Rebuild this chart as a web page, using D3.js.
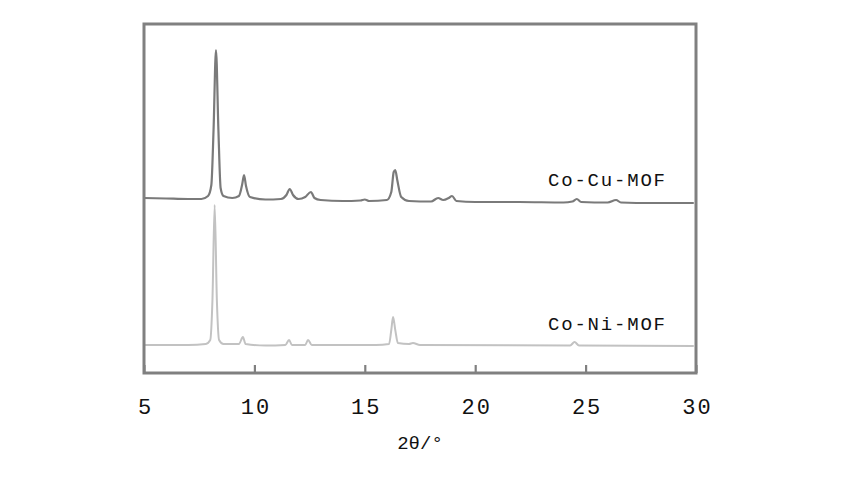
<!DOCTYPE html>
<html><head><meta charset="utf-8">
<script src="https://cdn.jsdelivr.net/npm/d3@7"></script>
<style>body{margin:0;background:#fff;} svg{display:block;}</style>
</head><body>
<svg id="c" width="850" height="478"></svg>
<script>
// 2θ values (degrees) and stacked intensities (a.u., offset included)
const cuTheta = [5.0,6.0,7.0,7.6,7.9,8.05,8.15,8.26,8.37,8.47,8.6,9.0,9.3,9.45,9.53,9.62,9.8,10.5,11.2,11.45,11.6,11.75,12.0,12.3,12.56,12.72,13.0,14.0,14.8,15.0,15.2,16.0,16.2,16.31,16.38,16.47,16.65,17.0,18.0,18.32,18.55,18.8,18.95,19.15,20.0,22.0,24.0,24.4,24.6,24.8,26.0,26.38,26.6,28.0,29.9];
const cuInt   = [176,175.5,175,175,178,189,244,324,244,186,178,176,178,190,199,188,177,174.5,175,179,185,179,175,177,182,176,174,173,173.5,174.5,173,174,182,202,204,194,177,173,172.5,176,174,176,178,173,172,172,171.5,172.5,175,172,171.5,174,171.5,171,171];
const niTheta = [5.0,7.0,7.8,8.0,8.1,8.2,8.3,8.4,8.6,9.3,9.48,9.6,10.5,11.4,11.57,11.7,12.3,12.43,12.6,15.5,16.1,16.2,16.28,16.38,16.5,17.0,17.18,17.5,24.3,24.5,24.7,29.9];
const niInt   = [29,29,30,34,74,169,74,34,30,30,37,30,28.5,29,34,29,29,34,29,29,30,44,57,44,31,30,31,29,28.5,32,28.5,28];
const seriesNames = ["Co-Cu-MOF","Co-Ni-MOF"];
const xTicks = [5,10,15,20,25,30];
const xTitle = "2θ/°";

const svg = d3.select("#c");
const L=144,R=696,T=24,B=373;
const x = d3.scaleLinear().domain([5,30]).range([L,R]);
const y = d3.scaleLinear().domain([0,350]).range([374,24]);

svg.append("clipPath").attr("id","pc").append("rect").attr("x",L).attr("y",T).attr("width",R-L).attr("height",B-T);

const line = d3.line().x(d=>x(d[0])).y(d=>y(d[1])).curve(d3.curveMonotoneX);
const cu = cuTheta.map((t,i)=>[t,cuInt[i]]);
const ni = niTheta.map((t,i)=>[t,niInt[i]]);

const g = svg.append("g").attr("clip-path","url(#pc)");
g.append("path").datum(ni).attr("d",line).attr("fill","none").attr("stroke","#c2c2c2").attr("stroke-width",2);
g.append("path").datum(cu).attr("d",line).attr("fill","none").attr("stroke","#7a7a7a").attr("stroke-width",2.2);

// frame
svg.append("rect").attr("x",L).attr("y",T).attr("width",R-L).attr("height",B-T)
  .attr("fill","none").attr("stroke","#808080").attr("stroke-width",3);

// axis ticks (inward)
const ax = d3.axisBottom(x).tickValues(xTicks).tickSizeInner(-8).tickSizeOuter(0).tickPadding(25).tickFormat(d3.format("d"));
const axg = svg.append("g").attr("transform",`translate(0,${B})`).call(ax);
axg.select(".domain").remove();
axg.selectAll(".tick line").attr("stroke","#808080").attr("stroke-width",2.2);
axg.selectAll(".tick text").attr("font-family","Liberation Mono, DejaVu Sans Mono, monospace")
  .attr("font-size",22).attr("fill","#111").attr("letter-spacing","2px").attr("dx","1px");

svg.append("text").attr("x",(L+R)/2).attr("y",449).attr("text-anchor","middle")
  .attr("font-family","Liberation Mono, DejaVu Sans Mono, monospace").attr("font-size",19).attr("fill","#111")
  .text(xTitle);

const labY=[186,330];
seriesNames.forEach((n,i)=>{
  svg.append("text").attr("x",548).attr("y",labY[i]).attr("font-family","Liberation Mono, DejaVu Sans Mono, monospace")
    .attr("font-size",19).attr("letter-spacing","1.8px").attr("fill","#111").text(n);
});
</script>
</body></html>
